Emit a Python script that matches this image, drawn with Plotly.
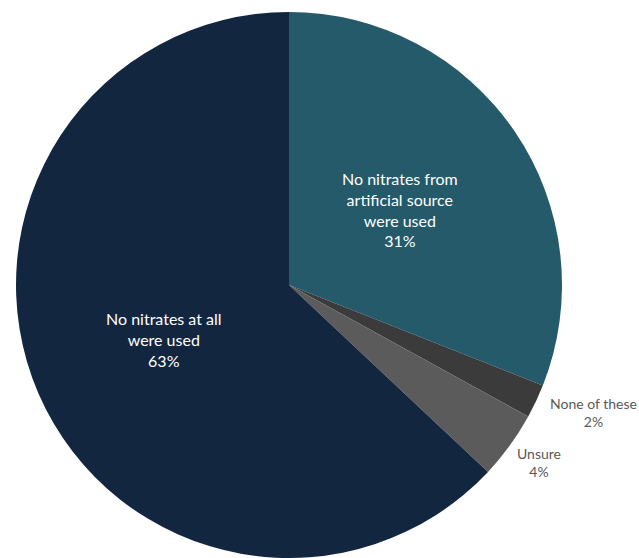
import math
import plotly.graph_objects as go

labels = ["No nitrates from artificial source were used", "None of these", "Unsure", "No nitrates at all were used"]
label_lines = ["No nitrates from<br>artificial source<br>were used", "None of these", "Unsure", "No nitrates at all<br>were used"]
values = [31, 2, 4, 63]
colors = ["#245a6a", "#3b3b3b", "#5b5b5b", "#13263f"]
inside = [True, False, False, True]
# radial distance of each label, as a fraction of the pie radius
label_radius = [0.49, 1.2, 1.12, 0.5]
# small pixel nudges for the outside labels
label_shift = [(0, 0), (8, 12), (3, 2), (0, 0)]

W, H = 639, 558
cx, cy, R = 289, 285, 273

fig = go.Figure(go.Pie(
    labels=labels,
    values=values,
    sort=False,
    direction="clockwise",
    rotation=0,
    marker=dict(colors=colors, line=dict(width=0)),
    textinfo="none",
    hoverinfo="label+percent",
    domain=dict(x=[(cx - R) / W, (cx + R) / W], y=[max(0, 1 - (cy + R) / H), 1 - (cy - R) / H]),
    showlegend=False,
))

# place each slice label along the slice's mid-angle
total = sum(values)
cum = 0
annotations = []
for txt, v, ins, rf, (sx, sy) in zip(label_lines, values, inside, label_radius, label_shift):
    mid = (cum + v / 2) / total * 2 * math.pi
    cum += v
    r = rf * R
    px = cx + r * math.sin(mid)
    py = cy - r * math.cos(mid)
    pct = f"{round(v / total * 100)}%"
    annotations.append(dict(
        x=px / W, y=1 - py / H, xref="paper", yref="paper",
        xshift=sx, yshift=sy,
        text=f"{txt}<br>{pct}", showarrow=False,
        font=dict(family="Lato, 'Open Sans', sans-serif", size=16 if ins else 14,
                  color="#ffffff" if ins else "#595959"),
        align="center", xanchor="center", yanchor="middle",
    ))

fig.update_layout(
    width=W, height=H,
    margin=dict(l=0, r=0, t=0, b=0),
    paper_bgcolor="#ffffff",
    plot_bgcolor="#ffffff",
    annotations=annotations,
)

fig.write_html("out.html")
